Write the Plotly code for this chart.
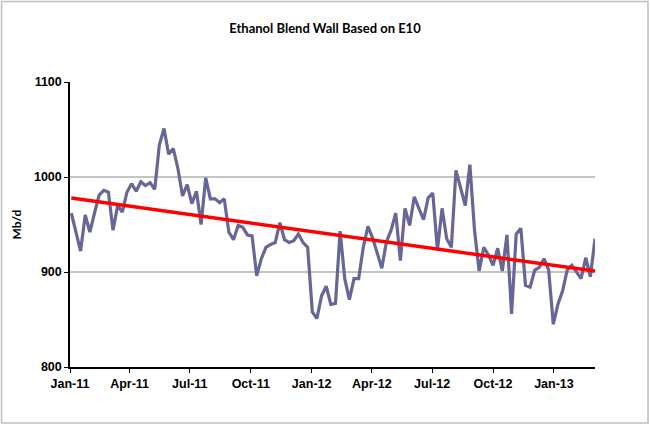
import pandas as pd
import plotly.graph_objects as go

# Weekly ethanol blend wall estimate (Mb/d)
start_date = "2011-01-03"
blend_values = [
    962, 942, 922, 960, 942, 962, 981, 986, 984, 944,
    970, 963, 984, 993, 985, 995, 991, 994, 987, 1034,
    1051, 1024, 1030, 1009, 980, 992, 972, 985, 950, 999,
    977, 977, 973, 977, 942, 934, 949, 947, 939, 938,
    896, 914, 926, 929, 931, 952, 934, 931, 933, 940,
    931, 926, 858, 851, 875, 885, 866, 867, 943, 893,
    871, 893, 893, 926, 948, 936, 919, 904, 932, 944,
    962, 912, 967, 949, 979, 967, 955, 978, 983, 923,
    967, 935, 926, 1007, 990, 970, 1013, 944, 901, 926,
    918, 907, 925, 901, 939, 856, 940, 946, 886, 884,
    902, 905, 914, 902, 845, 866, 880, 902, 907, 900,
    893, 915, 895, 935,
]
dates = pd.date_range(start_date, periods=len(blend_values), freq="7D")

# Linear trend line end values (Mb/d)
trend_values = [978, 901]
trend_dates = [dates[0], dates[-1]]

y_tick_values = [800, 900, 1000, 1100]
title_text = "Ethanol Blend Wall Based on E10"
y_title = "Mb/d"

fig = go.Figure()
fig.add_trace(go.Scatter(
    x=dates, y=blend_values, mode="lines",
    line=dict(color="#666699", width=3.2), hoverinfo="skip",
))
fig.add_trace(go.Scatter(
    x=trend_dates, y=trend_values, mode="lines",
    line=dict(color="#ff0000", width=3.5), hoverinfo="skip",
))

L, R, T, B = 70, 55, 82, 58
W, H = 650, 425
pw = W - L - R
ph = H - T - B

tick_font = dict(family="Liberation Sans, Arial, sans-serif", size=12.5, color="black", weight="bold")

fig.update_layout(
    width=W, height=H,
    margin=dict(l=L, r=R, t=T, b=B, pad=0),
    paper_bgcolor="white", plot_bgcolor="white",
    showlegend=False,
    title=dict(
        text=title_text, x=0.5, xanchor="center",
        y=1 - 28 / H, yanchor="middle",
        font=dict(family="Lato, Open Sans, sans-serif", size=13, color="black", weight="bold"),
    ),
    xaxis=dict(
        type="date",
        range=["2011-01-01", "2013-03-04"],
        tick0="2011-01-01", dtick="M3", tickformat="%b-%y",
        showgrid=False, zeroline=False,
        showline=True, linecolor="black", linewidth=1.5,
        ticks="outside", ticklen=4, tickcolor="black", tickwidth=1.2,
        tickfont=tick_font,
    ),
    yaxis=dict(
        range=[800, 1100],
        tickvals=y_tick_values,
        showgrid=True, gridcolor="#c4c4c4", gridwidth=1.5,
        zeroline=False,
        showline=True, linecolor="black", linewidth=1.5,
        ticks="outside", ticklen=4, tickcolor="black", tickwidth=1.2,
        tickfont=tick_font,
        title=dict(text=y_title, standoff=10,
                   font=dict(family="Lato, Open Sans, sans-serif", size=12, color="black", weight="bold")),
    ),
    shapes=[dict(
        type="rect", xref="paper", yref="paper",
        x0=(1.5 - L) / pw, x1=(W - 2 - L) / pw,
        y0=(H - B - (H - 2)) / ph, y1=(H - B - 1.5) / ph,
        line=dict(color="#bfbfbf", width=1.5), layer="below",
    )],
)

fig.write_html("out.html")
